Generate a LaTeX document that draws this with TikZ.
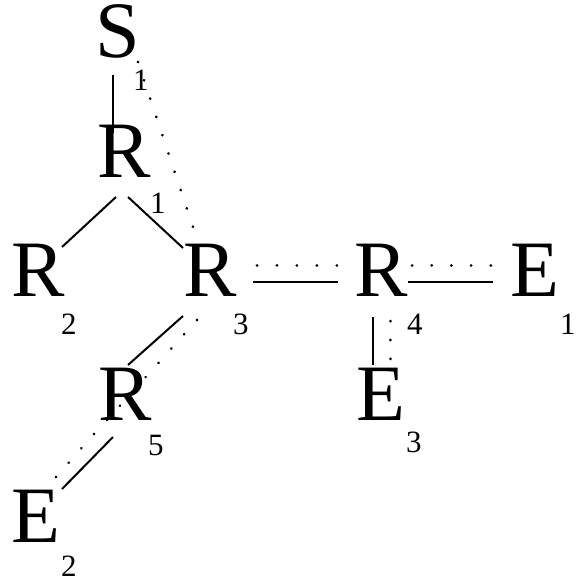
\documentclass[tikz,border=0pt]{standalone}
\usepackage{fontspec}
\setmainfont{Liberation Serif}
\begin{document}
\begin{tikzpicture}[x=1pt,y=-1pt,
  letter/.style={font=\fontsize{80}{80}\selectfont, inner sep=0pt, outer sep=0pt, anchor=base west},
  idx/.style={font=\fontsize{31}{31}\selectfont, inner sep=0pt, outer sep=0pt, anchor=base west},
  bond/.style={line width=2pt},
  dotbond/.style={line width=3pt, line cap=round, dash pattern=on 0.01pt off #1}]
\useasboundingbox (0,0) rectangle (577,581);
% main letters
\node[letter] (s)  at (95,57)   {S};
\node[letter] (r1) at (97,177)  {R};
\node[letter] (r2) at (11,296)  {R};
\node[letter] (r3) at (183,296) {R};
\node[letter] (r4) at (354,296) {R};
\node[letter] (e1) at (510,296) {E};
\node[letter] (e3) at (356,420) {E};
\node[letter] (r5) at (98,420)  {R};
\node[letter] (e2) at (11,542)  {E};
% indices
\node[idx] (s1)  at (133,90)  {1};
\node[idx] (r1i) at (150,213) {1};
\node[idx] (r2i) at (61,334)  {2};
\node[idx] (r3i) at (233,334) {3};
\node[idx] (r4i) at (407,334) {4};
\node[idx] (e1i) at (560,334) {1};
\node[idx] (e3i) at (406,452) {3};
\node[idx] (r5i) at (148,455) {5};
\node[idx] (e2i) at (61,576)  {2};
% solid bonds
\draw[bond] ([shift={(18,18)}]s.base west) -- ([shift={(16,-44)}]r1.base west);
\draw[bond] ([shift={(19,20)}]r1.base west) -- ([shift={(51,-49)}]r2.base west);
\draw[bond] ([shift={(31,20)}]r1.base west) -- ([shift={(0,-48)}]r3.base west);
\draw[bond] ([shift={(70,-14)}]r3.base west) -- ([shift={(-16,-14)}]r4.base west);
\draw[bond] ([shift={(54,-14)}]r4.base west) -- ([shift={(-17,-14)}]e1.base west);
\draw[bond] ([shift={(19,21)}]r4.base west) -- ([shift={(17,-55)}]e3.base west);
\draw[bond] ([shift={(0,20)}]r3.base west) -- ([shift={(30,-55)}]r5.base west);
\draw[bond] ([shift={(15,17)}]r5.base west) -- ([shift={(51,-53)}]e2.base west);
% dotted bonds
\draw[dotbond=19.28pt] ([shift={(5,-28)}]s1.base west) -- ([shift={(10,-69)}]r3.base west);
\draw[dotbond=19.98pt] ([shift={(74,-31)}]r3.base west) -- ([shift={(-17,-31)}]r4.base west);
\draw[dotbond=19.73pt] ([shift={(58,-31)}]r4.base west) -- ([shift={(-19,-31)}]e1.base west);
\draw[dotbond=18.98pt] ([shift={(36,25)}]r4.base west) -- ([shift={(34,-61)}]e3.base west);
\draw[dotbond=19.19pt] ([shift={(14,24)}]r3.base west) -- ([shift={(9,0)}]r5.base west);
\draw[dotbond=19.1pt] ([shift={(-4,14)}]r5.base west) -- ([shift={(45,-65)}]e2.base west);
\end{tikzpicture}
\end{document}
